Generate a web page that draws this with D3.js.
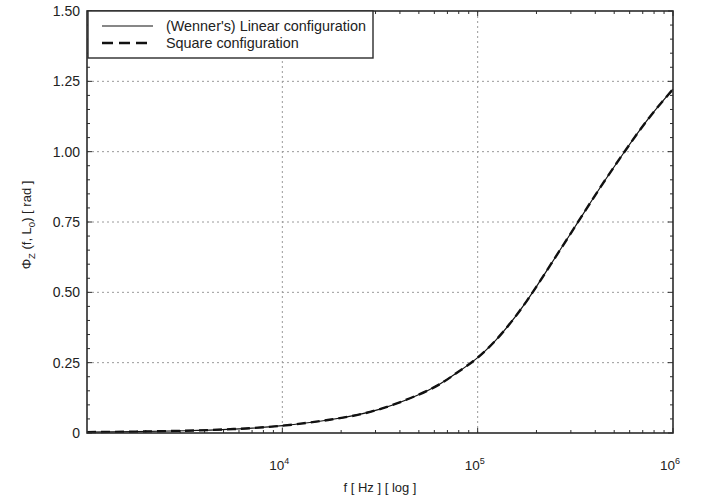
<!DOCTYPE html>
<html>
<head>
<meta charset="utf-8">
<script src="https://cdn.jsdelivr.net/npm/d3@7"></script>
<style>
  html, body { margin: 0; padding: 0; background: #fff; }
  svg { display: block; font-family: "Liberation Sans", Arial, sans-serif; }
</style>
</head>
<body>
<svg id="chart" width="710" height="501"></svg>
<script>
// Frequency samples [Hz]
const freqs = [1000, 1778, 3162, 5623, 10000, 17783, 31623, 56234, 74989, 100000,
               133352, 177828, 237137, 316228, 421697, 562341, 749894, 1000000];
// Phase of the impedance [rad], Wenner linear array
const linearPhase = [0.003, 0.005, 0.008, 0.014, 0.026, 0.048, 0.085, 0.153, 0.205, 0.268,
                     0.355, 0.468, 0.600, 0.735, 0.870, 0.998, 1.118, 1.222];
// Phase of the impedance [rad], square array
const squarePhase = [0.003, 0.005, 0.008, 0.014, 0.026, 0.048, 0.085, 0.153, 0.205, 0.268,
                     0.355, 0.468, 0.600, 0.735, 0.870, 0.998, 1.118, 1.222];

const yTicks = [0, 0.25, 0.5, 0.75, 1.0, 1.25, 1.5];
const yTickLabels = ["0", "0.25", "0.50", "0.75", "1.00", "1.25", "1.50"];
const xDecades = [1e4, 1e5, 1e6];
const xExponents = ["4", "5", "6"];
const legendLabels = ["(Wenner's) Linear configuration", "Square configuration"];

const svg = d3.select("#chart");
const plot = { left: 87, right: 673, top: 11, bottom: 433 };

const x = d3.scaleLog().domain([1e3, 1e6]).range([plot.left, plot.right]);
const y = d3.scaleLinear().domain([0, 1.5]).range([plot.bottom, plot.top]);

const frameColor = "#2b2b2b";
const textColor = "#222";

// grid lines
const grid = svg.append("g");
[1e4, 1e5].forEach(v => {
  grid.append("line")
    .attr("x1", x(v)).attr("x2", x(v))
    .attr("y1", plot.top).attr("y2", plot.bottom)
    .attr("stroke", "#9a9a9a").attr("stroke-width", 1)
    .attr("stroke-dasharray", "2,3");
});
yTicks.slice(1, -1).forEach(v => {
  grid.append("line")
    .attr("x1", plot.left).attr("x2", plot.right)
    .attr("y1", y(v)).attr("y2", y(v))
    .attr("stroke", "#9a9a9a").attr("stroke-width", 1)
    .attr("stroke-dasharray", "2,3");
});

// minor / major ticks on all four sides, pointing inward
const ticks = svg.append("g").attr("stroke", frameColor).attr("stroke-width", 1);
const xMinor = [];
for (let e = 3; e < 6; e++) for (let m = 2; m <= 9; m++) xMinor.push(m * Math.pow(10, e));
xMinor.forEach(v => {
  ticks.append("line").attr("x1", x(v)).attr("x2", x(v)).attr("y1", plot.bottom).attr("y2", plot.bottom - 3);
  ticks.append("line").attr("x1", x(v)).attr("x2", x(v)).attr("y1", plot.top).attr("y2", plot.top + 3);
});
xDecades.forEach(v => {
  ticks.append("line").attr("x1", x(v)).attr("x2", x(v)).attr("y1", plot.bottom).attr("y2", plot.bottom - 5);
  ticks.append("line").attr("x1", x(v)).attr("x2", x(v)).attr("y1", plot.top).attr("y2", plot.top + 5);
});
d3.range(0, 1.5001, 0.05).forEach(v => {
  const major = Math.abs(v / 0.25 - Math.round(v / 0.25)) < 1e-6;
  const len = major ? 5 : 3;
  ticks.append("line").attr("x1", plot.left).attr("x2", plot.left + len).attr("y1", y(v)).attr("y2", y(v));
  ticks.append("line").attr("x1", plot.right).attr("x2", plot.right - len).attr("y1", y(v)).attr("y2", y(v));
});

// curves
const line = d3.line()
  .x(d => x(d[0]))
  .y(d => y(d[1]))
  .curve(d3.curveNatural);

svg.append("path")
  .datum(freqs.map((f, i) => [f, linearPhase[i]]))
  .attr("d", line)
  .attr("fill", "none").attr("stroke", "#111").attr("stroke-width", 1.2);

svg.append("path")
  .datum(freqs.map((f, i) => [f, squarePhase[i]]))
  .attr("d", line)
  .attr("fill", "none").attr("stroke", "#111").attr("stroke-width", 2.4)
  .attr("stroke-dasharray", "9,5");

// frame
svg.append("rect")
  .attr("x", plot.left).attr("y", plot.top)
  .attr("width", plot.right - plot.left).attr("height", plot.bottom - plot.top)
  .attr("fill", "none").attr("stroke", frameColor).attr("stroke-width", 1.6);

// y tick labels
svg.append("g").selectAll("text")
  .data(yTicks)
  .join("text")
  .attr("x", 80).attr("y", d => y(d))
  .attr("dy", "0.35em")
  .attr("text-anchor", "end")
  .attr("font-size", 14)
  .attr("fill", textColor)
  .text((d, i) => yTickLabels[i]);

// x tick labels: 10 with superscript exponent
const xl = svg.append("g");
xDecades.forEach((v, i) => {
  const t = xl.append("text")
    .attr("x", x(v) - 3).attr("y", 470)
    .attr("text-anchor", "middle")
    .attr("font-size", 13.5)
    .attr("fill", textColor);
  t.append("tspan").text("10");
  t.append("tspan").attr("dy", -6).attr("font-size", 9).text(xExponents[i]);
});

// x axis title
svg.append("text")
  .attr("x", (plot.left + plot.right) / 2).attr("y", 492)
  .attr("text-anchor", "middle")
  .attr("font-size", 13)
  .attr("fill", textColor)
  .text("f [ Hz ] [ log ]");

// y axis title
const yt = svg.append("text")
  .attr("transform", `translate(31, ${(plot.top + plot.bottom) / 2 + 3}) rotate(-90)`)
  .attr("text-anchor", "middle")
  .attr("font-size", 13)
  .attr("fill", textColor);
yt.append("tspan").text("Φ");
yt.append("tspan").attr("dy", 4).attr("font-size", 9.5).text("Z");
yt.append("tspan").attr("dy", -4).text(" (f, L");
yt.append("tspan").attr("dy", 4).attr("font-size", 9.5).text("0");
yt.append("tspan").attr("dy", -4).text(") [ rad ]");

// legend
const lg = svg.append("g");
lg.append("rect")
  .attr("x", 88).attr("y", 11).attr("width", 285).attr("height", 47)
  .attr("fill", "#fff").attr("stroke", frameColor).attr("stroke-width", 1.4);
lg.append("line")
  .attr("x1", 102).attr("x2", 153).attr("y1", 26).attr("y2", 26)
  .attr("stroke", "#111").attr("stroke-width", 1.2);
lg.append("line")
  .attr("x1", 102).attr("x2", 153).attr("y1", 43).attr("y2", 43)
  .attr("stroke", "#111").attr("stroke-width", 2.6)
  .attr("stroke-dasharray", "11,6");
legendLabels.forEach((s, i) => {
  lg.append("text")
    .attr("x", 166).attr("y", 26 + i * 17)
    .attr("dy", "0.35em")
    .attr("font-size", 14.4)
    .attr("fill", textColor)
    .text(s);
});
</script>
</body>
</html>
